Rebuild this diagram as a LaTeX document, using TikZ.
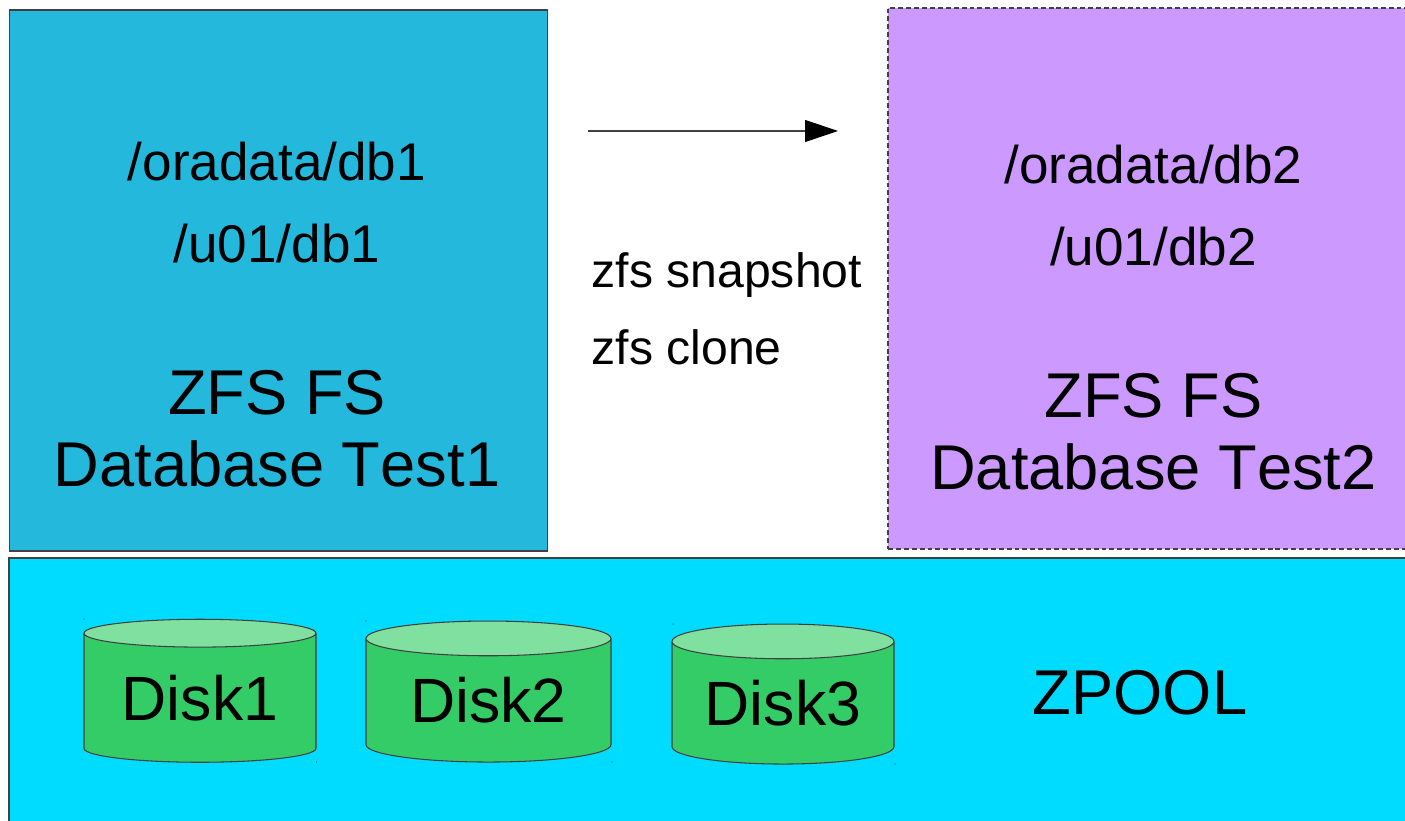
\documentclass[tikz,border=0pt]{standalone}
\usepackage{fontspec}
\setmainfont[Kerning=Off]{Liberation Sans}
\usetikzlibrary{arrows.meta,shapes.geometric}

\definecolor{fsblue}{HTML}{23B8DC}
\definecolor{fspurple}{HTML}{CC99FF}
\definecolor{poolcyan}{HTML}{00DCFF}
\definecolor{diskbody}{HTML}{33CC66}
\definecolor{disktop}{HTML}{7FE0A0}
\colorlet{edgegrey}{black!75}

\tikzset{
    fsbox/.style={draw=edgegrey, line width=0.3pt, inner sep=0pt, minimum width=#1},
    disk/.style={draw=edgegrey, line width=0.3pt, shape=cylinder, shape border rotate=90, shape aspect=#1,
        cylinder uses custom fill, cylinder body fill=diskbody, cylinder end fill=disktop, inner sep=0pt,
        font=\fontsize{17.8}{20.5}\selectfont},
    bigtext/.style={align=center, font=\fontsize{18}{20.5}\selectfont},
    pathtext/.style={font=\fontsize{15.1}{18}\selectfont},
    cmdtext/.style={anchor=west, inner sep=0pt, font=\fontsize{13.7}{16}\selectfont}
}

\begin{document}
\begin{tikzpicture}
                \useasboundingbox (0, 0) rectangle (14.05, -8.21);

                \node[fsbox=5.38cm, fill=fsblue, minimum height=5.41cm] (fsa) at (2.785, -2.805) {};
                \node[fsbox=5.2cm, fill=fspurple, dash pattern=on 1.4pt off 0.85pt, minimum height=5.41cm] (fsb) at (11.48, -2.785) {};
                \node[fsbox=14.1cm, fill=poolcyan, minimum height=2.7cm] (pool) at (7.14, -6.93) {};

                \node[pathtext] (oraa) at (2.77, -1.62) {/oradata/db1};
                \node[pathtext] (ua) at (2.77, -2.44) {/u01/db1};
                \node[bigtext] (labela) at (2.77, -4.29) {ZFS FS\\Database Test1};

                \node[pathtext] (orab) at (11.535, -1.65) {/oradata/db2};
                \node[pathtext] (ub) at (11.535, -2.47) {/u01/db2};
                \node[bigtext] (labelb) at (11.535, -4.32) {ZFS FS\\Database Test2};

                \coordinate (snapstart) at (5.88, -1.31);
                \coordinate (snapend) at (8.38, -1.31);
                \node[cmdtext] (snap) at (5.91, -2.75) {zfs snapshot};
                \node[cmdtext] (clone) at (5.91, -3.47) {zfs clone};

                \node[disk=0.178, minimum width=2.32cm, minimum height=1.43cm] (diska) at (2.0, -6.98) {Disk1};
                \node[disk=0.222, minimum width=2.45cm, minimum height=1.41cm] (diskb) at (4.885, -7.005) {Disk2};
                \node[disk=0.222, minimum width=2.22cm, minimum height=1.40cm] (diskc) at (7.83, -7.03) {Disk3};

                \node[bigtext] (poolname) at (11.4, -6.93) {ZPOOL};

                \foreach \dotx/\doty in {0.84/6.19, 3.165/7.62, 3.66/6.21, 6.12/7.62, 6.73/6.24, 8.95/7.64}
                    \fill[edgegrey] (\dotx, -\doty) circle (0.006);

                \draw[line width=0.3pt, draw=edgegrey, -{Triangle[length=3.3mm, width=2.2mm, black]}]
                (snapstart) -- (snapend);
            \end{tikzpicture}
\end{document}
